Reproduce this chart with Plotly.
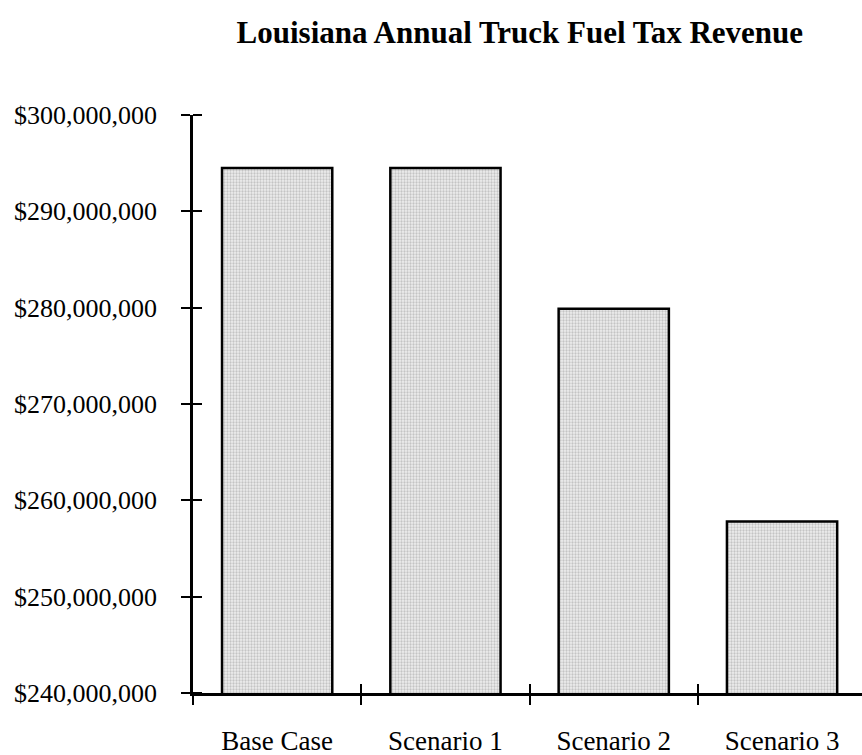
import plotly.graph_objects as go

# Annual truck fuel tax revenue by scenario (USD)
categories = ["Base Case", "Scenario 1", "Scenario 2", "Scenario 3"]
revenue = [294.5e6, 294.5e6, 279.9e6, 257.8e6]

y_ticks = [240e6, 250e6, 260e6, 270e6, 280e6, 290e6, 300e6]
y_tick_labels = ["$240,000,000", "$250,000,000", "$260,000,000", "$270,000,000",
                 "$280,000,000", "$290,000,000", "$300,000,000"]

FONT = "Liberation Serif, Times New Roman, serif"
X_RANGE = [-0.5, 3.475]
Y_RANGE = [240e6, 300e6]

fig = go.Figure()
fig.add_trace(go.Bar(
    x=categories,
    y=revenue,
    marker=dict(
        color="#e6e6e6",
        line=dict(color="black", width=2.5),
        pattern=dict(shape=".", fgcolor="#c4c4c4", bgcolor="#eeeeee",
                     size=3, solidity=0.45, fillmode="replace"),
    ),
    hoverinfo="x+y",
))

# invisible companion trace so the overlay x axis (category index scale) is drawn
fig.add_trace(go.Scatter(
    x=list(range(len(categories))), y=revenue, xaxis="x2", yaxis="y",
    mode="markers", marker=dict(opacity=0), hoverinfo="skip", showlegend=False,
))

fig.update_layout(
    width=862, height=755,
    margin=dict(l=193, r=0, t=115, b=62),
    paper_bgcolor="white", plot_bgcolor="white",
    font=dict(family=FONT, size=26, color="black"),
    showlegend=False,
    bargap=0.345,
    title=dict(text="<b>Louisiana Annual Truck Fuel Tax Revenue</b>",
               font=dict(family=FONT, size=31, color="black"),
               x=0.603, xanchor="center", y=0.958, yanchor="middle"),
    xaxis=dict(
        type="category", range=X_RANGE,
        showline=True, linecolor="black", linewidth=2.5,
        ticks="outside", tickson="boundaries", ticklen=9, tickwidth=2,
        tickcolor="black", showgrid=False, zeroline=False,
        ticklabelstandoff=22, tickfont=dict(size=27),
    ),
    yaxis=dict(
        range=Y_RANGE, tickvals=y_ticks, ticktext=y_tick_labels,
        showline=True, linecolor="black", linewidth=2.5,
        ticks="outside", ticklen=9, tickwidth=2, tickcolor="black",
        showgrid=False, zeroline=False, ticklabelstandoff=19,
        # inner half of the crossing tick marks
        minor=dict(tickvals=[v + 1 for v in y_ticks], ticks="inside",
                   ticklen=9, tickwidth=2, tickcolor="black", showgrid=False),
    ),
    # overlay axis giving the upward half of the category-boundary ticks
    xaxis2=dict(
        overlaying="x", anchor="y", side="bottom", type="linear",
        range=X_RANGE, tickvals=[0.5, 1.5, 2.5], showticklabels=False,
        ticks="inside", ticklen=9, tickwidth=2, tickcolor="black",
        showgrid=False, zeroline=False, showline=False,
    ),
)

fig.write_html("out.html")
